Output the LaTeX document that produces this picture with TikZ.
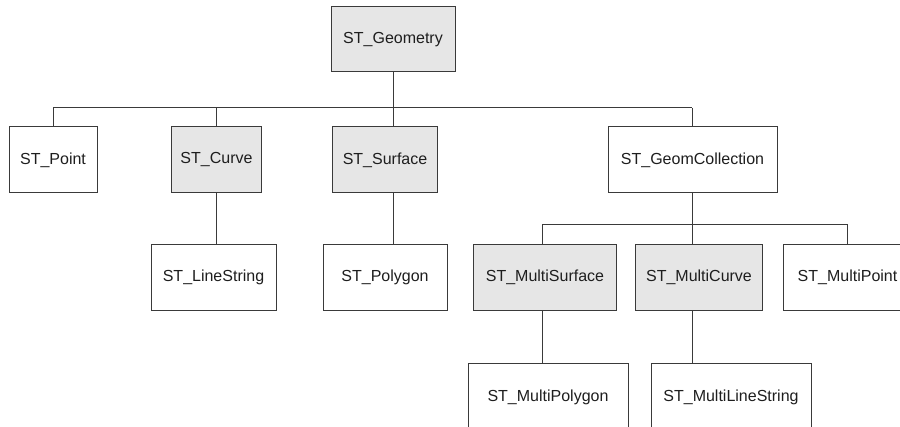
\documentclass[tikz,border=0pt]{standalone}
\usepackage{fontspec}
\setmainfont{Liberation Sans}
\definecolor{boxfill}{HTML}{E6E6E6}
\definecolor{edge}{HTML}{3A3A3A}
\definecolor{txt}{HTML}{1E1E1E}
\begin{document}
\begin{tikzpicture}[x=1pt,y=-1pt,
  cls/.style={draw=edge,line width=1pt,fill=white,inner sep=0pt,text=txt,
    font=\fontsize{16}{19}\selectfont},
  abs/.style={cls,fill=boxfill},
  link/.style={draw=edge,line width=1pt}]
\useasboundingbox (0,0) rectangle (900,427);
\clip (0,0) rectangle (900,427);
% nodes
\node[abs,minimum width=124pt,minimum height=65pt] (geom) at (393,39.5) {ST\_Geometry};
\node[cls,minimum width=88pt,minimum height=66pt] (point) at (53,160) {ST\_Point};
\node[abs,minimum width=90pt,minimum height=66pt] (curve) at (216.5,160) {ST\_Curve};
\node[abs,minimum width=105pt,minimum height=66pt] (surface) at (385,160) {ST\_Surface};
\node[cls,minimum width=169pt,minimum height=66pt] (coll) at (692.5,160) {ST\_GeomCollection};
\node[cls,minimum width=125pt,minimum height=65.5pt] (line) at (213.5,277.75) {ST\_LineString};
\node[cls,minimum width=124pt,minimum height=65.5pt] (poly) at (385,277.75) {ST\_Polygon};
\node[abs,minimum width=143pt,minimum height=65.5pt] (msurf) at (545,277.75) {ST\_MultiSurface};
\node[abs,minimum width=127pt,minimum height=65.5pt] (mcurve) at (699,277.75) {ST\_MultiCurve};
\node[cls,minimum width=128pt,minimum height=65.5pt] (mpoint) at (847.5,277.75) {ST\_MultiPoint};
\node[cls,minimum width=160pt,minimum height=66pt] (mpoly) at (548,397) {ST\_MultiPolygon};
\node[cls,minimum width=160pt,minimum height=66pt] (mline) at (731,397) {ST\_MultiLineString};
% bus coordinates
\coordinate (bus1l) at (53,108);
\coordinate (bus1r) at (692,108);
\coordinate (bus2l) at (542,224.3);
\coordinate (bus2r) at (847.7,224.3);
\coordinate (xc) at (216.5,0);
\coordinate (xg) at (393,0);
\coordinate (xk) at (692,0);
\coordinate (xs) at (542,0);
\coordinate (xp) at (847.7,0);
% connectors
\draw[link] (geom.south) -- (xg |- surface.north);
\draw[link] (bus1l) -- (bus1r);
\draw[link] (bus1l) -- (point.north);
\draw[link] (xc |- bus1l) -- (xc |- curve.north);
\draw[link] (bus1r) -- (xk |- coll.north);
\draw[link] (xc |- curve.south) -- (xc |- line.north);
\draw[link] (xg |- surface.south) -- (xg |- poly.north);
\draw[link] (xk |- coll.south) -- (xk |- mcurve.north);
\draw[link] (bus2l) -- (bus2r);
\draw[link] (bus2l) -- (xs |- msurf.north);
\draw[link] (bus2r) -- (xp |- mpoint.north);
\draw[link] (xs |- msurf.south) -- (xs |- mpoly.north);
\draw[link] (xk |- mcurve.south) -- (xk |- mline.north);
\end{tikzpicture}
\end{document}
